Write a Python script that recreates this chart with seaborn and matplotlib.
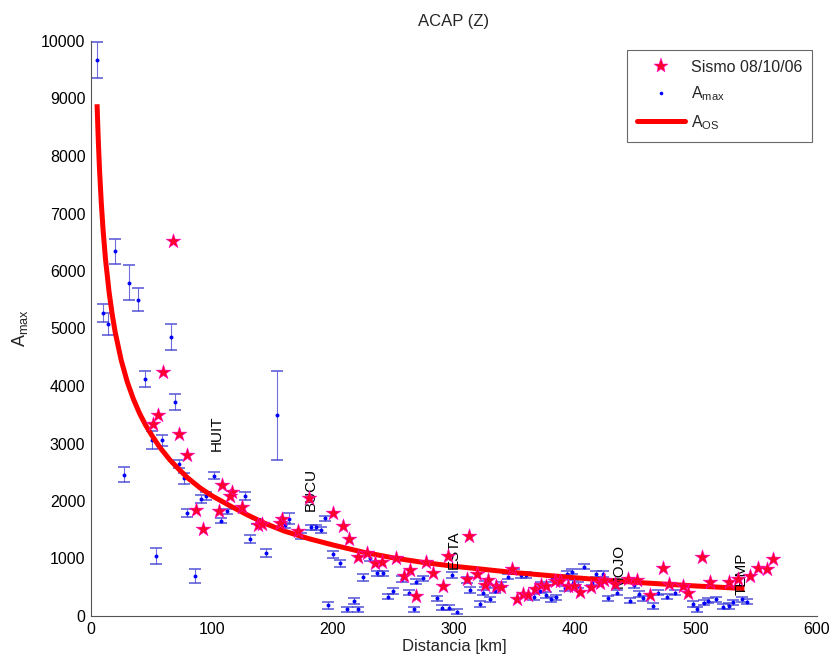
import numpy as np
import pandas as pd
import matplotlib
matplotlib.use("Agg")
import matplotlib.pyplot as plt
from matplotlib.lines import Line2D
import seaborn as sns

# --- Sismo 08/10/06: observed amplitudes (distance km, amplitude) ---
sismo_dist = [67.8, 59.5, 55.4, 51.2, 72.7, 79.3, 108.5, 116.3, 114.9, 124.5,
              87.0, 105.8, 92.3, 137.8, 141.6, 158.1, 156.2, 171.3, 180.0, 199.7,
              208.3, 213.0, 220.7, 228.0, 234.5, 240.1, 252.3, 258.4, 263.6, 268.2,
              276.8, 282.8, 290.5, 295.3, 312.7, 310.8, 319.3, 328.2, 325.8, 334.6,
              339.2, 348.3, 351.9, 356.9, 361.1, 366.8, 371.5, 376.0, 383.2, 387.3,
              394.0, 399.2, 404.0, 413.0, 420.7, 424.0, 433.0, 444.0, 451.0, 462.0,
              473.0, 478.0, 489.0, 493.6, 505.0, 511.6, 527.5, 534.5, 544.6, 551.5,
              558.4, 563.4]
sismo_amp = [6530, 4243, 3496, 3339, 3165, 2800, 2283, 2162, 2087, 1901,
             1849, 1820, 1507, 1577, 1594, 1681, 1623, 1478, 2047, 1797,
             1565, 1345, 1026, 1095, 928, 936, 1008, 698, 794, 348,
             940, 756, 530, 1050, 1391, 646, 730, 632, 533, 522,
             502, 820, 297, 390, 370, 475, 540, 525, 610, 605,
             522, 522, 417, 499, 580, 626, 557, 638, 626, 370,
             829, 557, 522, 394, 1031, 597, 597, 638, 696, 829,
             812, 997]

# --- A_max with uncertainty (distance km, amplitude, half error) ---
amax_dist = [5.0, 20.1, 31.8, 38.7, 9.9, 14.3, 66.1, 44.9, 69.4, 50.1,
             58.4, 27.3, 73.0, 76.9, 90.9, 95.0, 79.6, 54.0, 85.7, 101.9,
             127.3, 107.4, 112.1, 131.4, 144.9, 153.7, 137.5, 160.0, 163.6, 173.3,
             181.5, 186.0, 189.8, 193.4, 195.5, 200.3, 205.8, 211.3, 217.4, 220.9,
             224.5, 230.6, 236.1, 241.0, 249.8, 245.7, 256.7, 263.1, 268.3, 274.6,
             267.2, 285.6, 289.8, 296.1, 302.2, 298.5, 310.5, 313.0, 324.2, 321.5,
             329.8, 325.6, 333.9, 338.6, 344.9, 349.3, 355.5, 359.8, 365.8, 372.0,
             376.0, 371.0, 379.9, 384.3, 380.7, 387.0, 393.6, 397.3, 407.6, 391.7,
             398.6, 402.7, 413.8, 417.4, 422.9, 427.5, 435.0, 445.5, 448.8, 453.1,
             456.0, 464.7, 468.9, 475.8, 482.6, 497.8, 501.1, 506.6, 510.2, 516.5,
             522.6, 527.5, 530.8, 537.7, 542.4]
amax_amp = [9670, 6340, 5800, 5500, 5270, 5075, 4845, 4120, 3720, 3060,
            3060, 2460, 2650, 2395, 2035, 2085, 1785, 1045, 700, 2440,
            2085, 1660, 1820, 1345, 1090, 3490, 1640, 1575, 1695, 1390,
            1545, 1545, 1495, 1700, 190, 1075, 915, 115, 255, 115,
            670, 1003, 742, 742, 435, 336, 638, 406, 597, 655,
            116, 307, 145, 145, 75, 710, 626, 452, 406, 209,
            290, 557, 440, 551, 680, 771, 705, 713, 330, 555,
            365, 440, 290, 325, 638, 673, 730, 771, 857, 481,
            580, 539, 580, 730, 730, 307, 406, 267, 539, 383,
            307, 174, 406, 336, 406, 209, 116, 232, 267, 290,
            162, 174, 240, 290, 249]
amax_err = [320, 225, 300, 200, 160, 190, 225, 140, 140, 150,
            95, 130, 70, 100, 70, 70, 70, 145, 125, 60,
            70, 45, 45, 70, 70, 770, 45, 45, 100, 45,
            45, 45, 45, 45, 60, 60, 60, 45, 50, 45,
            60, 50, 45, 45, 45, 45, 50, 45, 45, 45,
            45, 45, 40, 40, 40, 50, 50, 45, 45, 45,
            45, 45, 45, 45, 45, 45, 45, 45, 45, 45,
            45, 45, 45, 45, 45, 45, 45, 45, 45, 45,
            45, 45, 45, 45, 45, 45, 45, 45, 45, 45,
            45, 45, 45, 45, 45, 45, 45, 45, 45, 45,
            45, 45, 45, 45, 45]

# --- A_OS attenuation curve ---
aos_dist = [5, 6, 7, 8.5, 10, 12, 15, 17.5, 20, 25, 30, 35, 40, 45, 50, 57,
            65, 72, 80, 90, 100, 115, 130, 145, 160, 180, 200, 225, 250, 275,
            300, 350, 400, 450, 500, 540]
aos_amp = [8900, 8290, 7780, 7185, 6710, 6200, 5625, 5250, 4935, 4445, 4070,
           3775, 3530, 3325, 3150, 2930, 2720, 2565, 2400, 2230, 2090, 1915,
           1750, 1600, 1475, 1345, 1235, 1110, 1010, 930, 865, 755, 665, 585,
           522, 478]

# --- station labels ---
station_names = ["HUIT", "BUCU", "ESTA", "MOJO", "TEMP"]
station_dist = [104, 182, 300, 436, 538]
station_amp = [2870, 1830, 820, 480, 365]

sismo_df = pd.DataFrame({"dist": sismo_dist, "amp": sismo_amp})
amax_df = pd.DataFrame({"dist": amax_dist, "amp": amax_amp, "err": amax_err})
aos_df = pd.DataFrame({"dist": aos_dist, "amp": aos_amp})

STAR_FACE = "#ff0030"
STAR_EDGE = "#ff00e0"

sns.set_style("white")
plt.rcParams["font.family"] = ["Liberation Sans", "DejaVu Sans"]
plt.rcParams["mathtext.fontset"] = "custom"
plt.rcParams["mathtext.rm"] = "Liberation Sans"
plt.rcParams["mathtext.it"] = "Liberation Sans"

fig = plt.figure(figsize=(8.32, 6.62), dpi=100)
ax = fig.add_axes([91 / 832, 1 - 616 / 662, (817 - 91) / 832, (616 - 41) / 662])

# error bars for A_max
ax.errorbar(amax_df["dist"], amax_df["amp"], yerr=amax_df["err"], fmt="none",
            ecolor="#3d3dd0", alpha=0.75, elinewidth=0.8, capsize=4.6,
            capthick=1.3, zorder=2)
sns.scatterplot(data=amax_df, x="dist", y="amp", ax=ax, color="#0000ff",
                marker="o", s=8, linewidth=0, zorder=3, legend=False)

# A_OS curve
sns.lineplot(data=aos_df, x="dist", y="amp", ax=ax, color="#ff0000",
             linewidth=3.6, zorder=4, legend=False, sort=False,
             solid_joinstyle="round", solid_capstyle="butt")

# station names
for name, d, a in zip(station_names, station_dist, station_amp):
    ax.text(d, a, name, rotation=90, ha="center", va="bottom",
            fontsize=11, color="black", zorder=4.5)

# observed amplitudes
sns.scatterplot(data=sismo_df, x="dist", y="amp", ax=ax, color=STAR_FACE,
                marker="*", s=125, edgecolor=STAR_EDGE, linewidth=0.35,
                zorder=5, legend=False)

ax.set_xlim(0, 600)
ax.set_ylim(0, 10000)
ax.set_xticks(range(0, 601, 100))
ax.set_yticks(range(0, 10001, 1000))
ax.tick_params(direction="in", length=4, width=0.8, colors="#555555",
               labelcolor="black", labelsize=11.5, pad=4)
for side in ["top", "right"]:
    ax.spines[side].set_visible(False)
for side in ["left", "bottom"]:
    ax.spines[side].set_color("#555555")
    ax.spines[side].set_linewidth(0.8)

ax.set_xlabel("Distancia [km]", fontsize=12, labelpad=2)
ax.set_ylabel(r"A$_{\mathrm{max}}$", fontsize=13, labelpad=8)
ax.set_title("ACAP (Z)", fontsize=12, pad=11)

handles = [
    Line2D([], [], linestyle="none", marker="*", markersize=11,
           markerfacecolor=STAR_FACE, markeredgecolor=STAR_EDGE, markeredgewidth=0.35),
    Line2D([], [], linestyle="none", marker="o", markersize=2.6,
           markerfacecolor="#0000ff", markeredgewidth=0),
    Line2D([], [], color="#ff0000", linewidth=3.6),
]
labels = ["Sismo 08/10/06", r"A$_{\mathrm{max}}$", r"A$_{\mathrm{OS}}$"]
leg = ax.legend(handles, labels, loc="upper right", bbox_to_anchor=(0.9935, 0.985),
                fontsize=11.5, frameon=True, fancybox=False, handlelength=3.0,
                handletextpad=0.35, borderpad=0.65, labelspacing=0.6,
                borderaxespad=0)
leg.get_frame().set_edgecolor("#444444")
leg.get_frame().set_linewidth(0.8)

fig.savefig("out.png", dpi=100, facecolor="white")
